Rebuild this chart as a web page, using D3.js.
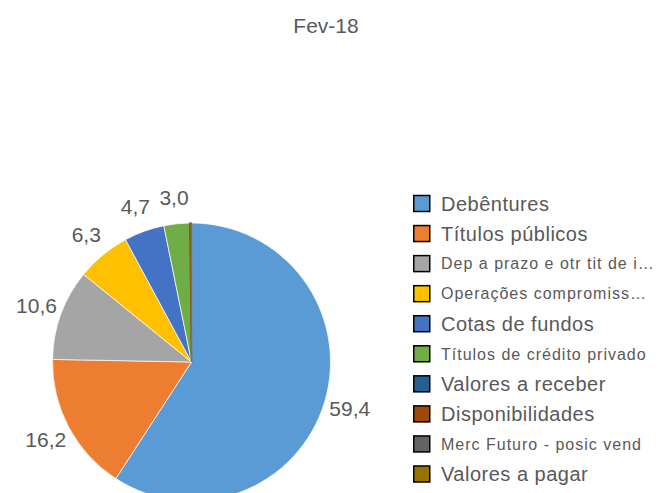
<!DOCTYPE html>
<html>
<head>
<meta charset="utf-8">
<script src="https://cdn.jsdelivr.net/npm/d3@7"></script>
<style>
  body { margin: 0; background: #fff; }
  svg text { font-family: "Liberation Sans", Arial, sans-serif; fill: #595959; }
</style>
</head>
<body>
<div id="chart"></div>
<script>
const title = 'Fev-18';
const categories = [
  'Debêntures',
  'Títulos públicos',
  'Dep a prazo e otr tit de i…',
  'Operações compromiss…',
  'Cotas de fundos',
  'Títulos de crédito privado',
  'Valores a receber',
  'Disponibilidades',
  'Merc Futuro - posic vend',
  'Valores a pagar'
];
const values = [59.4, 16.2, 10.6, 6.3, 4.7, 3.0, 0.0, 0.15, 0.0, 0.05];
const labelText = ['59,4', '16,2', '10,6', '6,3', '4,7', '3,0', '', '', '', ''];
const colors = ['#5B9BD5', '#ED7D31', '#A5A5A5', '#FFC000', '#4472C4', '#70AD47', '#255E91', '#9E480E', '#636363', '#997300'];
// long legend names are drawn smaller, as the original does
const smallLegend = [false, false, true, true, false, true, false, false, true, false];

const width = 660;
const height = 493;
const cx = 191.5, cy = 362, radius = 139;

const svg = d3.select('#chart')
  .append('svg')
  .attr('width', width)
  .attr('height', height);

svg.append('text')
  .attr('x', 326)
  .attr('y', 33)
  .attr('text-anchor', 'middle')
  .style('font-size', '21px')
  .text(title);

const data = categories.map((c, i) => ({ label: c, value: values[i], text: labelText[i], color: colors[i] }));

const pie = d3.pie()
  .value(d => d.value)
  .sort(null);

const arc = d3.arc()
  .innerRadius(0)
  .outerRadius(radius);

const g = svg.append('g')
  .attr('transform', `translate(${cx},${cy})`);

const arcs = pie(data);

g.selectAll('path')
  .data(arcs)
  .enter()
  .append('path')
  .attr('d', arc)
  .attr('fill', d => d.data.color)
  .attr('stroke', d => d.data.value < 0.5 ? d.data.color : '#fff')
  .attr('stroke-width', d => d.data.value < 0.5 ? 1.2 : 0.7);

// labels sit just outside the pie
const labelArc = d3.arc()
  .innerRadius(165)
  .outerRadius(165);

g.selectAll('text.lbl')
  .data(arcs.filter(d => d.data.text))
  .enter()
  .append('text')
  .attr('class', 'lbl')
  .attr('transform', d => `translate(${labelArc.centroid(d)})`)
  .attr('text-anchor', 'middle')
  .attr('dy', '0.36em')
  .style('font-size', '21px')
  .text(d => d.data.text);

// legend
const ly = d3.scalePoint()
  .domain(categories)
  .range([203.5, 474]);

const legend = svg.append('g');

const item = legend.selectAll('g')
  .data(data)
  .enter()
  .append('g')
  .attr('transform', d => `translate(413,${ly(d.label)})`);

item.append('rect')
  .attr('x', 0.75)
  .attr('y', -8)
  .attr('width', 16)
  .attr('height', 16)
  .attr('fill', d => d.color)
  .attr('stroke', '#000')
  .attr('stroke-width', 1.5);

item.append('text')
  .attr('x', 28)
  .attr('dy', '0.36em')
  .style('font-size', (d, i) => smallLegend[i] ? '16px' : '20px')
  .style('letter-spacing', (d, i) => smallLegend[i] ? '1px' : '0.5px')
  .text(d => d.label);
</script>
</body>
</html>
